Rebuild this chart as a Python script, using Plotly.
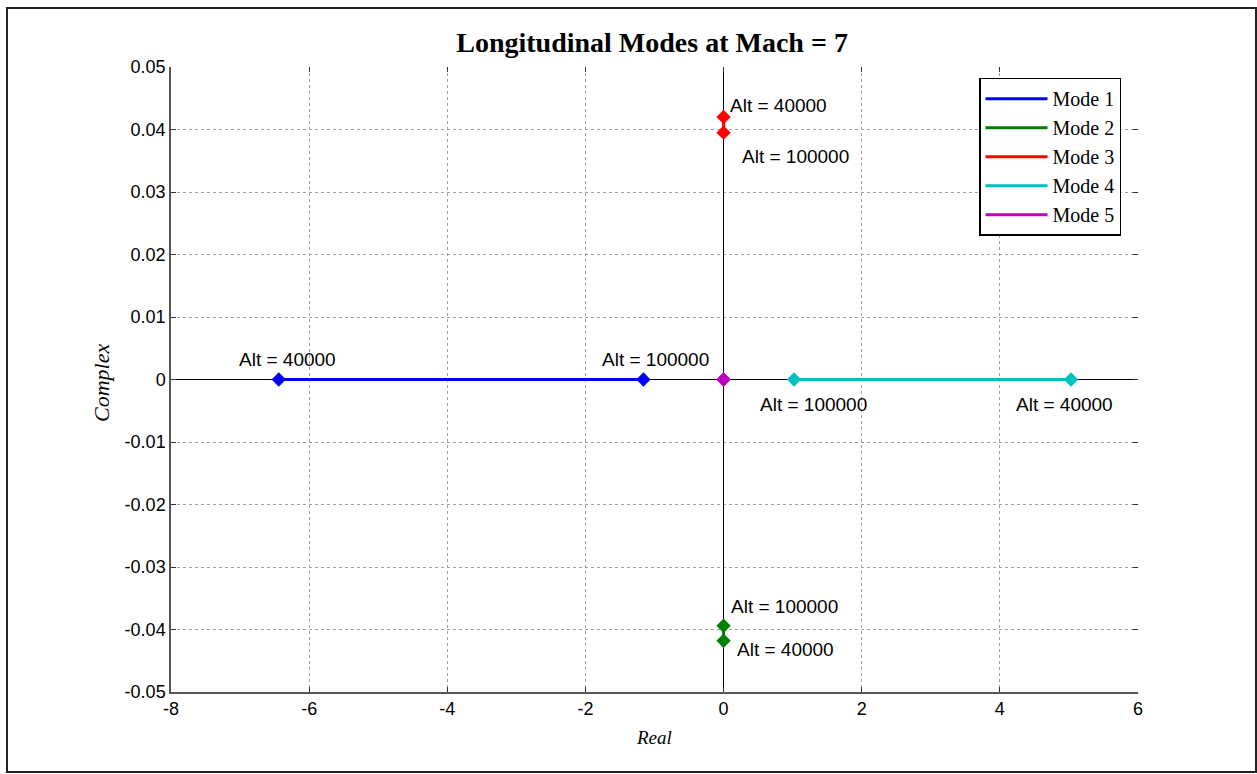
import plotly.graph_objects as go

# Eigenvalues of the longitudinal modes at Mach 7, evaluated at two altitudes
altitudes = [40000, 100000]
mode_names = ["Mode 1", "Mode 2", "Mode 3", "Mode 4", "Mode 5"]
real_parts = [
    [-6.44, -1.16],
    [0.0, 0.0],
    [0.0, 0.0],
    [5.03, 1.02],
    [0.0, 0.0],
]
imag_parts = [
    [0.0, 0.0],
    [-0.0418, -0.0394],
    [0.0420, 0.0395],
    [0.0, 0.0],
    [0.0, 0.0],
]

x_tick_vals = [-8, -6, -4, -2, 0, 2, 4, 6]
x_tick_text = ["-8", "-6", "-4", "-2", "0", "2", "4", "6"]
y_tick_vals = [0.05, 0.04, 0.03, 0.02, 0.01, 0, -0.01, -0.02, -0.03, -0.04, -0.05]
y_tick_text = ["0.05", "0.04", "0.03", "0.02", "0.01", "0",
               "-0.01", "-0.02", "-0.03", "-0.04", "-0.05"]

colors = ["#0000FF", "#008000", "#FF0000", "#00BFBF", "#BF00BF"]

# pixel offsets (dx, dy) of the altitude labels from their marker, per mode and altitude
label_offsets = {
    (0, 0): (-42, 20), (0, 1): (-43, 20),
    (1, 0): (11, -9), (1, 1): (5, 19),
    (2, 0): (4, 12), (2, 1): (16, -24),
    (3, 0): (-57, -25), (3, 1): (-36, -25),
}

ARIAL = "Arial, Liberation Sans, sans-serif"
TIMES = "Times New Roman, Liberation Serif, serif"

fig = go.Figure()

for i, name in enumerate(mode_names):
    fig.add_trace(go.Scatter(
        x=real_parts[i], y=imag_parts[i], mode="lines", name=name,
        line=dict(color=colors[i], width=3), legendgroup=name,
    ))
for i, name in enumerate(mode_names):
    fig.add_trace(go.Scatter(
        x=real_parts[i], y=imag_parts[i], mode="markers", showlegend=False,
        marker=dict(symbol="diamond", size=11, color=colors[i]), legendgroup=name,
    ))

# empty trace carrying the mirrored top/right tick axes
fig.add_trace(go.Scatter(x=[None], y=[None], xaxis="x2", yaxis="y2",
                         showlegend=False, hoverinfo="skip"))

annotations = []
for (m, a), (dx, dy) in label_offsets.items():
    annotations.append(dict(
        x=real_parts[m][a], y=imag_parts[m][a], xref="x", yref="y",
        text=f"Alt = {altitudes[a]}", showarrow=False,
        xanchor="left", yanchor="middle", xshift=dx, yshift=dy,
        font=dict(family=ARIAL, size=19, color="black"),
    ))

# axis titles
annotations.append(dict(x=0.4995, y=-0.072, xref="paper", yref="paper", text="<i>Real</i>",
                        showarrow=False, xanchor="center", yanchor="middle",
                        font=dict(family=TIMES, size=19, color="black")))
annotations.append(dict(x=-0.072, y=0.495, xref="paper", yref="paper", text="<i>Complex</i>",
                        showarrow=False, xanchor="center", yanchor="middle", textangle=-90,
                        font=dict(family=TIMES, size=22, color="black")))

axis_common = dict(
    showgrid=True, gridcolor="#a0a0a0", griddash="dot", gridwidth=1,
    ticks="inside", ticklen=5, tickcolor="#333333", tickwidth=1,
    showline=True, linecolor="#555555", linewidth=1.5,
    zeroline=True, zerolinecolor="black", zerolinewidth=1,
    tickfont=dict(family=ARIAL, size=18, color="black"),
)

fig.update_layout(
    width=1257, height=774,
    margin=dict(l=171, r=119, t=67, b=82),
    paper_bgcolor="white", plot_bgcolor="white",
    title=dict(text="<b>Longitudinal Modes at Mach = 7</b>", x=0.4975, xref="paper",
               y=1 - 42 / 774, yref="container", xanchor="center", yanchor="middle",
               font=dict(family=TIMES, size=28, color="black")),
    xaxis=dict(range=[-8, 6], tickvals=x_tick_vals, ticktext=x_tick_text, **axis_common),
    yaxis=dict(range=[-0.05, 0.05], tickvals=y_tick_vals, ticktext=y_tick_text, **axis_common),
    xaxis2=dict(overlaying="x", side="top", matches="x", range=[-8, 6], tickvals=x_tick_vals,
                showticklabels=False, ticks="inside", ticklen=5, tickcolor="#333333",
                showgrid=False, zeroline=False, showline=False),
    yaxis2=dict(overlaying="y", side="right", matches="y", range=[-0.05, 0.05],
                tickvals=y_tick_vals, showticklabels=False, ticks="inside", ticklen=5,
                tickcolor="#333333", showgrid=False, zeroline=False, showline=False),
    legend=dict(x=0.8356, y=0.983, xanchor="left", yanchor="top",
                bgcolor="white", bordercolor="black", borderwidth=1.5,
                font=dict(family=TIMES, size=20, color="black"),
                itemwidth=62, tracegroupgap=0, traceorder="grouped"),
    annotations=annotations,
    shapes=[dict(type="rect", xref="paper", yref="paper",
                 x0=(7 - 171) / 967, x1=(1256 - 171) / 967,
                 y0=(692 - 772) / 625, y1=(692 - 8) / 625,
                 line=dict(color="#222222", width=2), fillcolor="rgba(0,0,0,0)",
                 layer="below")],
    showlegend=True,
)

fig.write_html("out.html")
